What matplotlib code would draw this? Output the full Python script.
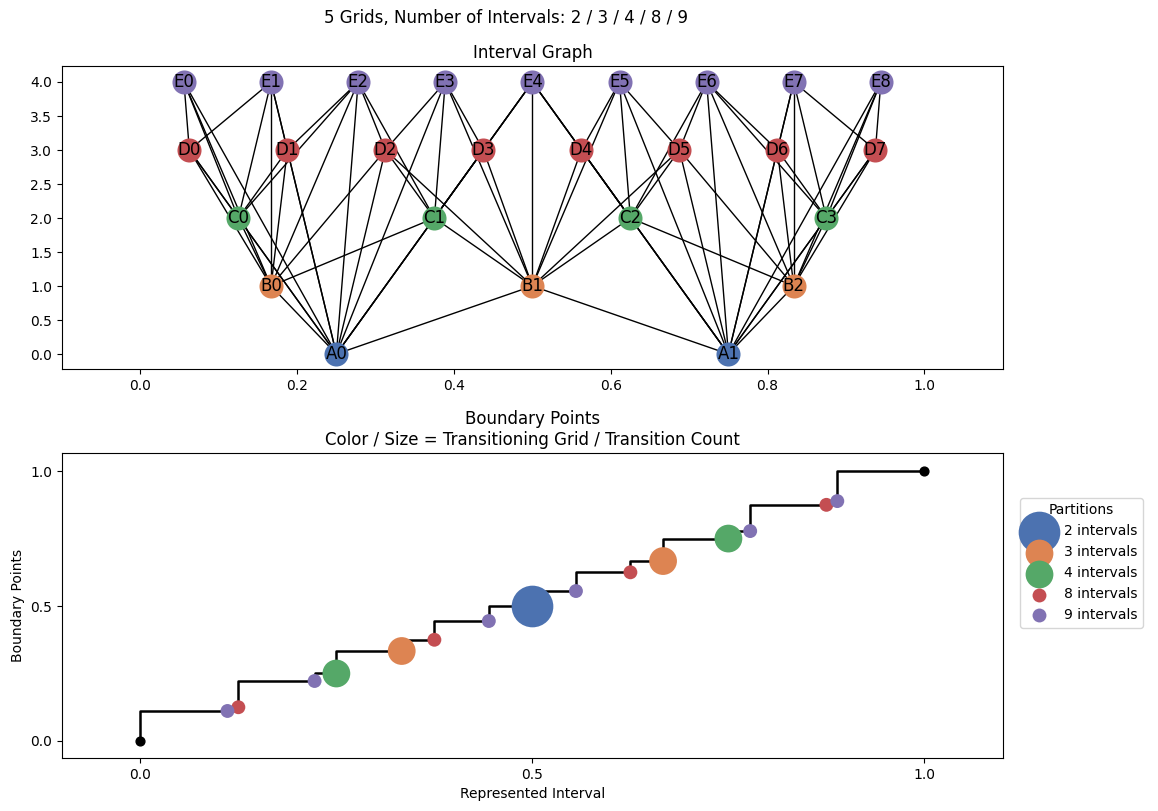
from fractions import Fraction
import matplotlib
matplotlib.use("Agg")
import matplotlib.pyplot as plt

# grids and their colours (seaborn "deep")
grid_counts = [2, 3, 4, 8, 9]
grid_names = ["A", "B", "C", "D", "E"]
grid_colors = ["#4C72B0", "#DD8452", "#55A868", "#C44E52", "#8172B3"]

def intervals(n):
    return [(Fraction(i, n), Fraction(i + 1, n)) for i in range(n)]

fig = plt.figure(figsize=(11.58, 8.11), dpi=100)
fig.suptitle("5 Grids, Number of Intervals: 2 / 3 / 4 / 8 / 9", x=0.437, y=0.978,
             va="center", fontsize=12)
ax1 = fig.add_axes([0.0535, 0.545, 0.8125, 0.3736])
ax2 = fig.add_axes([0.0535, 0.0654, 0.8125, 0.376])

# ---- interval graph ----
nodes = []
for lvl, (n, name, col) in enumerate(zip(grid_counts, grid_names, grid_colors)):
    for i, (a, b) in enumerate(intervals(n)):
        nodes.append((lvl, f"{name}{i}", a, b, col))

for p in range(len(nodes)):
    for q in range(p + 1, len(nodes)):
        l1, _, a1, b1, _ = nodes[p]
        l2, _, a2, b2, _ = nodes[q]
        if l1 != l2 and max(a1, a2) < min(b1, b2):
            ax1.plot([float(a1 + b1) / 2, float(a2 + b2) / 2], [l1, l2],
                     color="k", lw=1.0, zorder=1)

for lvl, lab, a, b, col in nodes:
    x = float(a + b) / 2
    ax1.scatter([x], [lvl], s=300, color=col, zorder=2, linewidths=0)
    ax1.text(x, lvl, lab, ha="center", va="center", fontsize=12, zorder=3)

ax1.set_xlim(-0.1, 1.1)
ax1.set_ylim(-0.22, 4.235)
ax1.set_xticks([0.0, 0.2, 0.4, 0.6, 0.8, 1.0])
ax1.set_yticks([0.0, 0.5, 1.0, 1.5, 2.0, 2.5, 3.0, 3.5, 4.0])
ax1.set_title("Interval Graph", fontsize=12)

# ---- boundary points ----
inner = {}
for n in grid_counts:
    for k in range(1, n):
        inner.setdefault(Fraction(k, n), []).append(n)
bounds = [Fraction(0)] + sorted(inner) + [Fraction(1)]
bx = [float(v) for v in bounds]

ax2.step(bx, bx, where="pre", color="k", lw=1.8, zorder=1)
ax2.scatter([bx[0], bx[-1]], [bx[0], bx[-1]], s=40, color="k", zorder=2)

for n, col in zip(grid_counts, grid_colors):
    pts = [v for v in sorted(inner) if min(inner[v]) == n]
    xs = [float(v) for v in pts]
    sizes = [100 * len(inner[v]) ** 2 for v in pts]
    ax2.scatter(xs, xs, s=sizes, color=col, linewidths=0, zorder=2,
                label=f"{n} intervals")

ax2.set_xlim(-0.1, 1.1)
ax2.set_ylim(-0.063, 1.067)
ax2.set_xticks([0.0, 0.5, 1.0])
ax2.set_yticks([0.0, 0.5, 1.0])
ax2.set_xlabel("Represented Interval")
ax2.set_ylabel("Boundary Points")
ax2.set_title("Boundary Points\nColor / Size = Transitioning Grid / Transition Count", fontsize=12)
ax2.legend(title="Partitions", loc="upper left", bbox_to_anchor=(1.018, 0.853),
           borderaxespad=0)

fig.savefig("out.png", dpi=100)
